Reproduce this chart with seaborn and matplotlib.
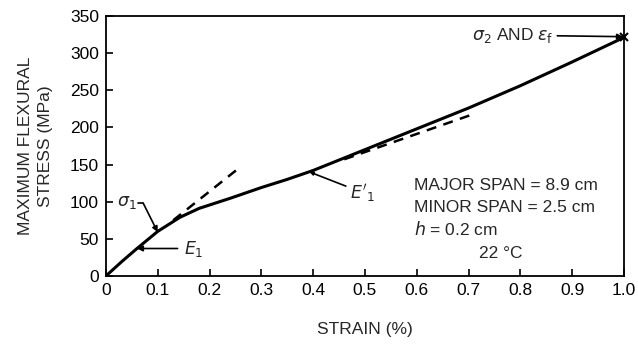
import matplotlib
matplotlib.use("Agg")
import matplotlib.pyplot as plt
import seaborn as sns
import pandas as pd

sns.set_theme(style="ticks")
plt.rcParams['font.family'] = ['Liberation Sans', 'DejaVu Sans']

strain = [0.0, 0.03, 0.06, 0.1, 0.143, 0.18, 0.24, 0.3, 0.35, 0.4, 0.5, 0.6, 0.7, 0.8, 0.9, 1.0]
stress = [0, 19, 37, 60, 79, 91, 104.6, 119, 130, 142, 170, 198, 226, 256, 288, 321]

tan1_strain = [0.13, 0.251]
tan1_stress = [75, 142]
tan2_strain = [0.46, 0.706]
tan2_stress = [157, 217]

x_ticks = [0, 0.1, 0.2, 0.3, 0.4, 0.5, 0.6, 0.7, 0.8, 0.9, 1.0]
x_labels = ["0", "0.1", "0.2", "0.3", "0.4", "0.5", "0.6", "0.7", "0.8", "0.9", "1.0"]
y_ticks = [0, 50, 100, 150, 200, 250, 300, 350]

curve = pd.DataFrame({"strain": strain, "stress": stress})
t1 = pd.DataFrame({"strain": tan1_strain, "stress": tan1_stress})
t2 = pd.DataFrame({"strain": tan2_strain, "stress": tan2_stress})

fig = plt.figure(figsize=(6.38, 3.45), dpi=100)
ax = fig.add_axes([0.166, 0.2, 0.812, 0.754])

sns.lineplot(data=curve, x="strain", y="stress", ax=ax, color="black", lw=2.2, sort=False)
sns.lineplot(data=t1, x="strain", y="stress", ax=ax, color="black", lw=1.8, linestyle=(0, (4, 3)))
sns.lineplot(data=t2, x="strain", y="stress", ax=ax, color="black", lw=1.8, linestyle=(0, (4, 3)))
ax.plot([1.0], [321], marker="x", color="black", ms=6, mew=1.5, clip_on=False)

ax.set_xlim(0, 1.0)
ax.set_ylim(0, 350)
ax.set_xticks(x_ticks)
ax.set_xticklabels(x_labels)
ax.set_yticks(y_ticks)
ax.tick_params(direction="in", length=5, width=1.2, labelsize=12.5, colors="black", pad=5)
for s in ax.spines.values():
    s.set_linewidth(1.3)
    s.set_color("black")

ax.set_xlabel("STRAIN (%)", fontsize=12.5, labelpad=17)
ax.set_ylabel("MAXIMUM FLEXURAL\nSTRESS (MPa)", fontsize=12.5, labelpad=12, linespacing=1.4)

fs = 12.5
# sigma_1
ax.text(0.022, 99, r"$\sigma_1$", fontsize=fs, va="center", ha="left")
ax.plot([0.062, 0.072], [98, 98], color="black", lw=1.2)
ax.annotate("", xy=(0.1, 59), xytext=(0.072, 98),
            arrowprops=dict(arrowstyle="-|>", color="black", lw=1.2, mutation_scale=8,
                            shrinkA=0, shrinkB=0))
# E_1
ax.annotate(r"$E_1$", xy=(0.06, 37), xytext=(0.15, 37), fontsize=fs, va="center", ha="left",
            arrowprops=dict(arrowstyle="-|>", color="black", lw=1.2, mutation_scale=8,
                            shrinkA=2, shrinkB=0))
# E'_1
ax.annotate(r"$E'_1$", xy=(0.393, 140), xytext=(0.472, 112), fontsize=fs, va="center", ha="left",
            arrowprops=dict(arrowstyle="-|>", color="black", lw=1.2, mutation_scale=5,
                            shrinkA=1, shrinkB=0))
# sigma_2 and eps_f
ax.annotate(r"$\sigma_2$ AND $\epsilon_{\rm f}$", xy=(0.998, 322), xytext=(0.865, 324), fontsize=fs,
            va="center", ha="right", arrowprops=dict(arrowstyle="-|>", color="black", lw=1.2,
                                                     mutation_scale=8, shrinkA=0, shrinkB=0))

ax.text(0.595, 122, "MAJOR SPAN = 8.9 cm", fontsize=fs, va="center")
ax.text(0.595, 92, "MINOR SPAN = 2.5 cm", fontsize=fs, va="center")
ax.text(0.595, 63, r"$h$ = 0.2 cm", fontsize=fs, va="center")
ax.text(0.72, 30, "22 °C", fontsize=fs, va="center")

fig.savefig("out.png", dpi=100)
